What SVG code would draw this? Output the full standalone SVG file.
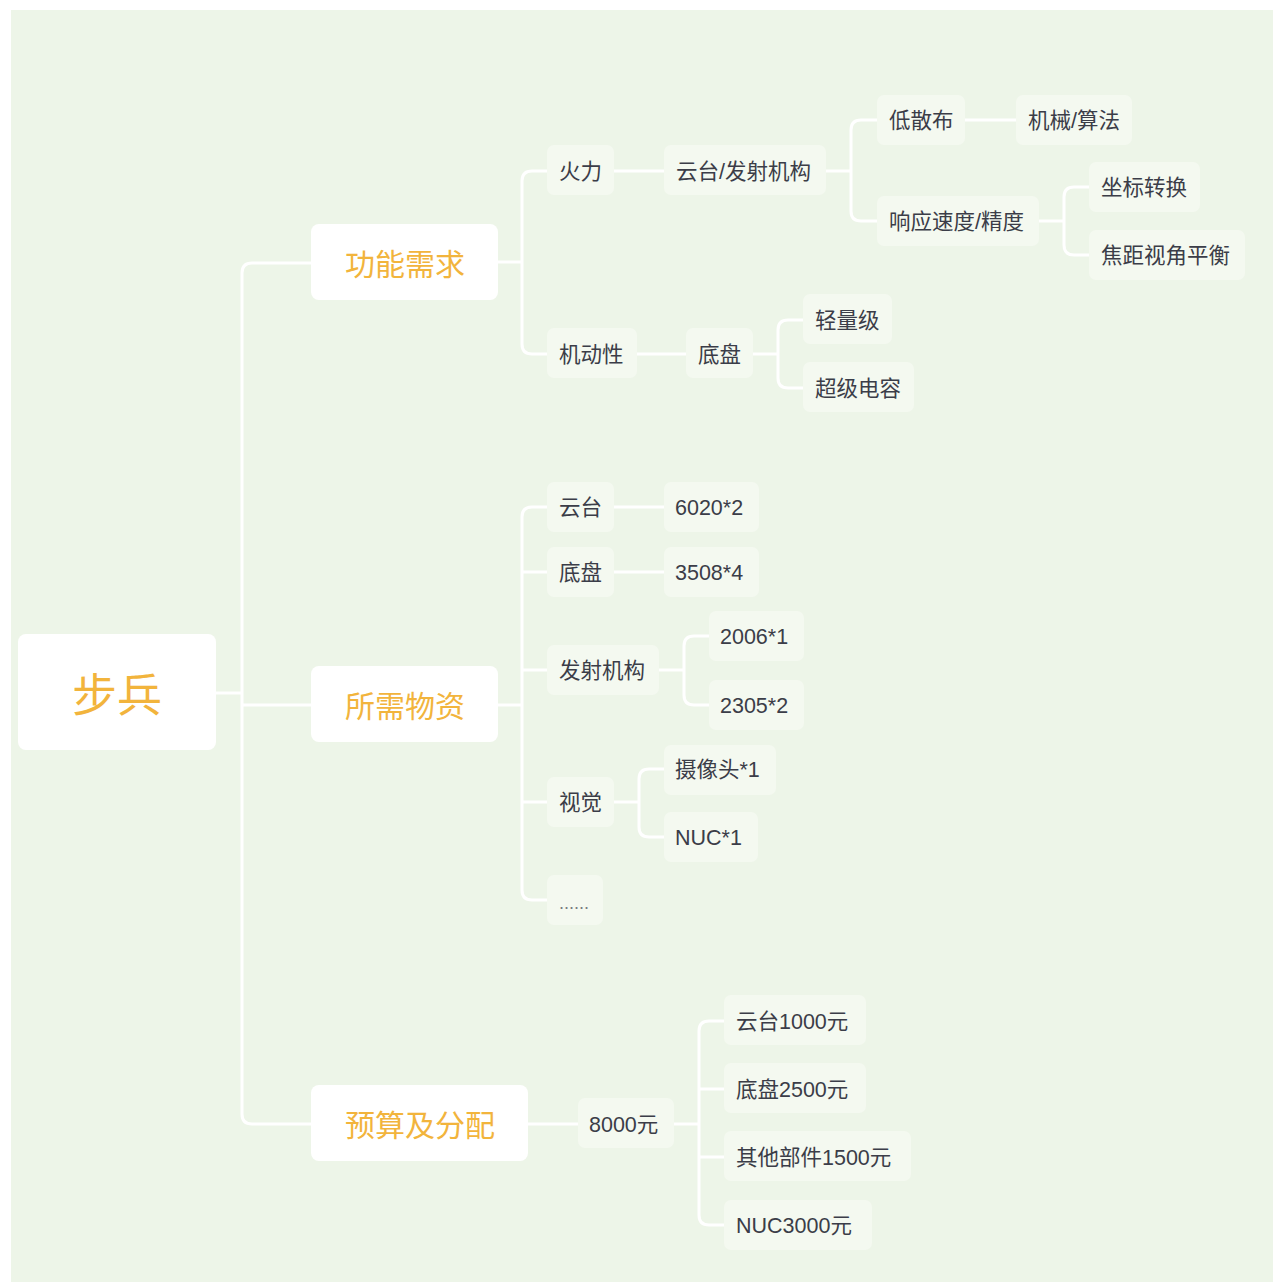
<svg xmlns="http://www.w3.org/2000/svg" width="1283" height="1282" viewBox="0 0 1283 1282">
<style>
.bg{fill:#EDF5E8}
.main{fill:#FFFFFF}
.leaf{fill:#F4F9F0}
.t{font-family:"Liberation Sans","Noto Sans CJK SC",sans-serif;font-size:21.5px;fill:#3B3D48;dominant-baseline:central}
.tm{font-family:"Noto Sans CJK SC","Noto Sans",sans-serif;font-size:30px;fill:#F2B43C;text-anchor:middle;dominant-baseline:central}
.tr{font-family:"Noto Sans CJK SC","Noto Sans",sans-serif;font-size:45px;fill:#F2B43C;text-anchor:middle;dominant-baseline:central}
.c{fill:none;stroke:#FFFFFF;stroke-width:3}
</style>
<rect width="1283" height="1282" fill="#FFFFFF"/>
<rect class="bg" x="11" y="10" width="1262" height="1272"/>
<g id="connectors">
<path class="c" d="M216 693 H242"/>
<path class="c" d="M311 263 H252 Q242 263 242 273 V1114 Q242 1124 252 1124 H311"/>
<path class="c" d="M242 705 H311"/>
<path class="c" d="M498 262 H522"/>
<path class="c" d="M547 171 H532 Q522 171 522 181 V344 Q522 354 532 354 H547"/>
<path class="c" d="M614 171 H664"/>
<path class="c" d="M826 171 H851"/>
<path class="c" d="M877 120 H861 Q851 120 851 130 V211 Q851 221 861 221 H877"/>
<path class="c" d="M965 120 H1016"/>
<path class="c" d="M1039 221 H1064"/>
<path class="c" d="M1089 187 H1074 Q1064 187 1064 197 V245 Q1064 255 1074 255 H1089"/>
<path class="c" d="M637 354 H686"/>
<path class="c" d="M753 354 H778"/>
<path class="c" d="M803 320 H788 Q778 320 778 330 V378 Q778 388 788 388 H803"/>
<path class="c" d="M498 705 H522"/>
<path class="c" d="M547 507 H532 Q522 507 522 517 V890 Q522 900 532 900 H547"/>
<path class="c" d="M522 572 H547 M522 670 H547 M522 802 H547"/>
<path class="c" d="M614 507 H664 M614 572 H664"/>
<path class="c" d="M659 670 H684"/>
<path class="c" d="M709 636 H694 Q684 636 684 646 V695 Q684 705 694 705 H709"/>
<path class="c" d="M614 802 H639"/>
<path class="c" d="M664 769 H649 Q639 769 639 779 V827 Q639 837 649 837 H664"/>
<path class="c" d="M528 1124 H578"/>
<path class="c" d="M674 1124 H699"/>
<path class="c" d="M724 1021 H709 Q699 1021 699 1031 V1215 Q699 1225 709 1225 H724"/>
<path class="c" d="M699 1089 H724 M699 1157 H724"/>
</g>
<g id="root"><rect class="main" x="18" y="634" width="198" height="116" rx="8"/><text class="tr" x="117" y="692">步兵</text></g>
<g id="n-gnxq"><rect class="main" x="311" y="224" width="187" height="76" rx="8"/><text class="tm" x="405" y="262">功能需求</text></g>
<g id="n-sxwz"><rect class="main" x="311" y="666" width="187" height="76" rx="8"/><text class="tm" x="405" y="704">所需物资</text></g>
<g id="n-ysjfp"><rect class="main" x="311" y="1085" width="217" height="76" rx="8"/><text class="tm" x="420" y="1123">预算及分配</text></g>
<g id="n-huoli"><rect class="leaf" x="547" y="145" width="67" height="50" rx="7"/><text class="t" x="559" y="172">火力</text></g>
<g id="n-ytfsjg"><rect class="leaf" x="664" y="145" width="162" height="50" rx="7"/><text class="t" x="676" y="172">云台/发射机构</text></g>
<g id="n-dsb"><rect class="leaf" x="877" y="95" width="88" height="50" rx="7"/><text class="t" x="889" y="121">低散布</text></g>
<g id="n-jxsf"><rect class="leaf" x="1016" y="95" width="116" height="50" rx="7"/><text class="t" x="1028" y="121">机械/算法</text></g>
<g id="n-xysd"><rect class="leaf" x="877" y="196" width="162" height="50" rx="7"/><text class="t" x="889" y="222">响应速度/精度</text></g>
<g id="n-zbzh"><rect class="leaf" x="1089" y="162" width="111" height="50" rx="7"/><text class="t" x="1101" y="188">坐标转换</text></g>
<g id="n-jjsj"><rect class="leaf" x="1089" y="230" width="156" height="50" rx="7"/><text class="t" x="1101" y="256">焦距视角平衡</text></g>
<g id="n-jdx"><rect class="leaf" x="547" y="328" width="90" height="50" rx="7"/><text class="t" x="559" y="355">机动性</text></g>
<g id="n-dp1"><rect class="leaf" x="686" y="328" width="67" height="50" rx="7"/><text class="t" x="698" y="355">底盘</text></g>
<g id="n-qlj"><rect class="leaf" x="803" y="294" width="89" height="50" rx="7"/><text class="t" x="815" y="321">轻量级</text></g>
<g id="n-cjdr"><rect class="leaf" x="803" y="362" width="111" height="50" rx="7"/><text class="t" x="815" y="389">超级电容</text></g>
<g id="n-yt"><rect class="leaf" x="547" y="482" width="67" height="50" rx="7"/><text class="t" x="559" y="508">云台</text></g>
<g id="n-6020"><rect class="leaf" x="664" y="482" width="95" height="50" rx="7"/><text class="t" x="675" y="508">6020*2</text></g>
<g id="n-dp2"><rect class="leaf" x="547" y="547" width="67" height="50" rx="7"/><text class="t" x="559" y="573">底盘</text></g>
<g id="n-3508"><rect class="leaf" x="664" y="547" width="95" height="50" rx="7"/><text class="t" x="675" y="573">3508*4</text></g>
<g id="n-fsjg"><rect class="leaf" x="547" y="645" width="112" height="50" rx="7"/><text class="t" x="559" y="671">发射机构</text></g>
<g id="n-2006"><rect class="leaf" x="709" y="611" width="95" height="50" rx="7"/><text class="t" x="720" y="637">2006*1</text></g>
<g id="n-2305"><rect class="leaf" x="709" y="680" width="95" height="50" rx="7"/><text class="t" x="720" y="706">2305*2</text></g>
<g id="n-sj"><rect class="leaf" x="547" y="777" width="67" height="50" rx="7"/><text class="t" x="559" y="803">视觉</text></g>
<g id="n-sxt"><rect class="leaf" x="664" y="745" width="112" height="50" rx="7"/><text class="t" x="675" y="770">摄像头*1</text></g>
<g id="n-nuc"><rect class="leaf" x="664" y="812" width="94" height="50" rx="7"/><text class="t" x="675" y="838">NUC*1</text></g>
<g id="n-more"><rect class="leaf" x="547" y="875" width="56" height="50" rx="7"/><text class="t" x="559" y="903" style="font-size:18px;fill:#7A7C82">......</text></g>
<g id="n-8000"><rect class="leaf" x="578" y="1098" width="96" height="50" rx="7"/><text class="t" x="589" y="1125">8000元</text></g>
<g id="n-yt1000"><rect class="leaf" x="724" y="995" width="142" height="50" rx="7"/><text class="t" x="736" y="1022">云台1000元</text></g>
<g id="n-dp2500"><rect class="leaf" x="724" y="1063" width="142" height="50" rx="7"/><text class="t" x="736" y="1090">底盘2500元</text></g>
<g id="n-qt1500"><rect class="leaf" x="724" y="1131" width="187" height="50" rx="7"/><text class="t" x="736" y="1158">其他部件1500元</text></g>
<g id="n-nuc3000"><rect class="leaf" x="724" y="1200" width="148" height="50" rx="7"/><text class="t" x="736" y="1226">NUC3000元</text></g>
</svg>
